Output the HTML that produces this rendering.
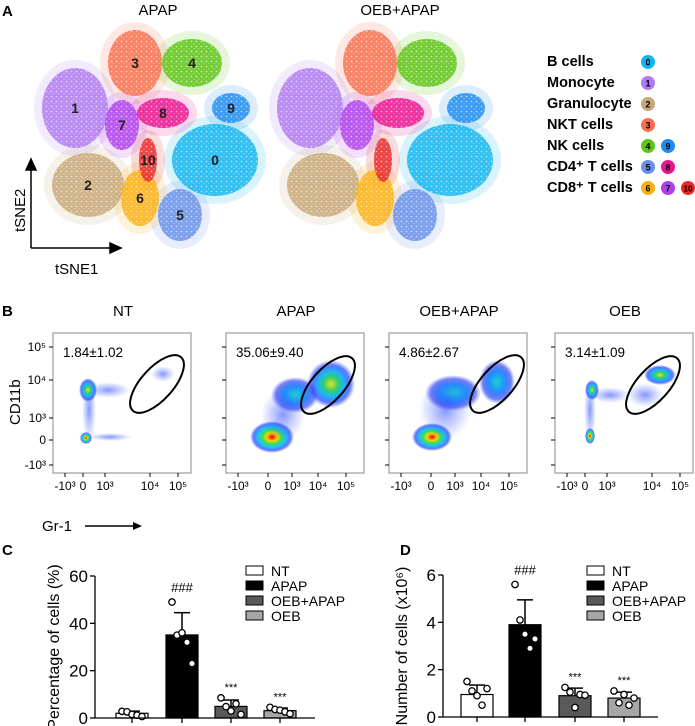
<!DOCTYPE html>
<html><head><meta charset="utf-8"><style>
body{margin:0;background:#fff;}
svg{display:block;font-family:"Liberation Sans",Arial,sans-serif;}
</style></head><body>
<svg id="fig" width="695" height="726" viewBox="0 0 695 726" xmlns="http://www.w3.org/2000/svg">
<defs>
<radialGradient id="hot"><stop offset="0" stop-color="#e00000"/><stop offset="0.25" stop-color="#ffd000"/><stop offset="0.45" stop-color="#30e060"/><stop offset="0.65" stop-color="#20c0ff"/><stop offset="0.85" stop-color="#2040ff" stop-opacity="0.7"/><stop offset="1" stop-color="#3050ff" stop-opacity="0"/></radialGradient>
<radialGradient id="green"><stop offset="0" stop-color="#f0e020"/><stop offset="0.3" stop-color="#30d070"/><stop offset="0.55" stop-color="#20b0ff"/><stop offset="0.8" stop-color="#2040ff" stop-opacity="0.7"/><stop offset="1" stop-color="#3050ff" stop-opacity="0"/></radialGradient>
<radialGradient id="cool"><stop offset="0" stop-color="#20d0d0"/><stop offset="0.45" stop-color="#2090ff"/><stop offset="0.8" stop-color="#2030f0" stop-opacity="0.6"/><stop offset="1" stop-color="#3050ff" stop-opacity="0"/></radialGradient>
<radialGradient id="sparse"><stop offset="0" stop-color="#2040ff" stop-opacity="0.55"/><stop offset="1" stop-color="#4060ff" stop-opacity="0"/></radialGradient>
<pattern id="speck" width="5" height="5" patternUnits="userSpaceOnUse"><circle cx="1.5" cy="1.5" r="0.9" fill="#fff" fill-opacity="0.6"/><circle cx="4" cy="3.8" r="0.6" fill="#fff" fill-opacity="0.5"/></pattern>
</defs>
<g id="panelA"></g>
<g id="panelB"></g>
<g id="panelC"></g>
<g id="panelD"></g>
</svg>
<script>
// ---- Panel A data ----
const clusterIds = [0,1,2,3,4,5,6,7,8,9,10];
const clusterColors = ["#12b5ef","#b07af0","#c8a878","#f8704f","#60c418","#6890ea","#fbb012","#b040ec","#ea1490","#1e8cf0","#e82828"];
const clusterCx = [215,75,88,135,192,180,140,122,163,231,148];
const clusterCy = [160,108,185,63,63,215,198,125,113,108,160];
const clusterRx = [43,33,36,27,30,22,19,17,26,19,9];
const clusterRy = [36,40,32,33,24,26,28,25,15,15,22];
const legendNames = ["B cells","Monocyte","Granulocyte","NKT cells","NK cells","CD4\u207A T cells","CD8\u207A T cells"];
const legendClusters = [[0],[1],[2],[3],[4,9],[5,8],[6,7,10]];

// ---- Panel C / D data ----
const groups = ["NT","APAP","OEB+APAP","OEB"];
const barFills = ["#ffffff","#000000","#595959","#a6a6a6"];
const pctMeans = [2.0,35.1,4.9,3.1];
const pctSd = [0.9,9.4,2.7,1.1];
const pctPoints = [[2.8,2.6,1.5,1.2,0.6],[49,35,36,32,23],[8.5,4.8,3.0,6.0,1.5],[4.5,3.6,3.3,2.6,1.8]];
const pctTicks = [0,20,40,60];
const numMeans = [0.95,3.9,0.9,0.8];
const numSd = [0.4,1.05,0.32,0.25];
const numPoints = [[1.5,1.1,0.9,0.5,1.2],[5.6,4.1,3.5,2.9,3.3],[1.25,1.05,0.4,0.95,0.92],[1.1,0.6,0.95,0.5,0.8]];
const numTicks = [0,2,4,6];
const pctLabels = ["","###","***","***"];
const flowTitles = ["NT","APAP","OEB+APAP","OEB"];
const flowPcts = ["1.84\u00B11.02","35.06\u00B19.40","4.86\u00B12.67","3.14\u00B11.09"];

const NS="http://www.w3.org/2000/svg";
function mk(tag, attrs, parent, text){
  const e=document.createElementNS(NS,tag);
  for(const k in attrs) e.setAttribute(k,attrs[k]);
  if(text!==undefined) e.textContent=text;
  parent.appendChild(e); return e;
}

// ---- Panel A ----
const A=document.getElementById('panelA');
const lblA=mk('text',{x:2,y:16,'font-size':15,'font-weight':'bold'},A,'A');


[0,235].forEach((off,mi)=>{
  const g=mk('g',{},A);
  
  
  const t=mk('text',{x:mi===0?158:400,y:15,'font-size':15,'text-anchor':'middle'},g,mi===0?'APAP':'OEB+APAP');
  
  
  clusterIds.forEach((id,i)=>{
    const h=mk('ellipse',{cx:clusterCx[i]+off,cy:clusterCy[i],rx:clusterRx[i]+8,ry:clusterRy[i]+8,fill:clusterColors[i],'fill-opacity':0.16},g);
    
    
  });
  clusterIds.forEach((id,i)=>{
    const c=mk('ellipse',{cx:clusterCx[i]+off,cy:clusterCy[i],rx:clusterRx[i],ry:clusterRy[i],fill:clusterColors[i],'fill-opacity':0.85},g);
    
    
    mk('ellipse',{cx:clusterCx[i]+off,cy:clusterCy[i],rx:clusterRx[i],ry:clusterRy[i],fill:'url(#speck)'},g);
    if(mi===0){
      const n=mk('text',{x:clusterCx[i],y:clusterCy[i]+5,'font-size':14,'font-weight':'bold','text-anchor':'middle',fill:'#222'},g,String(id));
      
      
    }
  });
});
const ax=mk('g',{stroke:'#000','stroke-width':1.5,fill:'none'},A);


mk('path',{d:'M31,248 L31,166 M31,248 L114,248'},ax);
mk('path',{d:'M26,170 L31,159 L36,170 Z M110,243 L121,248 L110,253 Z',fill:'#000'},ax);
const t1=mk('text',{x:55,y:274,'font-size':15},A,'tSNE1');


const t2=mk('text',{x:0,y:0,'font-size':15,transform:'translate(25,232) rotate(-90)'},A,'tSNE2');


legendNames.forEach((nm,r)=>{
  const y=66+r*21;
  const e=mk('text',{x:547,y:y,'font-size':14.5,'font-weight':'bold'},A,nm);
  
  
  legendClusters[r].forEach((id,k)=>{
    const c=mk('circle',{cx:648+k*20,cy:y-4,r:7,fill:clusterColors[id]},A);
    
    
    mk('text',{x:648+k*20,y:y-0.5,'font-size':id>9?8:9,'text-anchor':'middle','font-weight':'bold'},A,String(id));
  });
});

// ---- Panel B ----
const B=document.getElementById('panelB');
const lblB=mk('text',{x:2,y:316,'font-size':15,'font-weight':'bold'},B,'B');


const boxX=[53,226,389,555];
const blobs=[
 [[89,410,7,32,'sparse'],[108,390,22,8,'sparse'],[88,390,9,12,'green'],[86,438,6,6,'hot'],[110,437,22,4,'sparse'],[163,374,12,8,'sparse']],
 [[295,395,24,18,'cool'],[331,384,24,24,'green'],[272,437,22,16,'hot'],[283,415,22,26,'sparse']],
 [[453,393,28,18,'cool'],[497,382,18,22,'cool'],[432,437,20,14,'hot'],[445,410,26,30,'sparse']],
 [[590,410,6,32,'sparse'],[592,390,7,10,'green'],[590,436,5,8,'hot'],[610,395,20,8,'sparse'],[660,375,16,10,'green'],[645,395,18,12,'sparse']]
];
const gates=[[157,384],[328,385],[497,384],[653,385]];
boxX.forEach((bx,i)=>{
  const g=mk('g',{},B);
  
  
  const tt=mk('text',{x:bx+70,y:316,'font-size':15,'text-anchor':'middle'},g,flowTitles[i]);
  
  
  blobs[i].forEach(b=>{
    const e=mk('ellipse',{cx:b[0],cy:b[1],rx:b[2],ry:b[3],fill:'url(#'+b[4]+')'},g);
    
    
  });
  const gate=mk('ellipse',{cx:gates[i][0],cy:gates[i][1],rx:36,ry:16,fill:'none',stroke:'#000','stroke-width':2,transform:'rotate(-48 '+gates[i][0]+' '+gates[i][1]+')'},g);
  
  
  mk('rect',{x:bx,y:333,width:138,height:140,fill:'none',stroke:'#888','stroke-width':1},g);
  const p=mk('text',{x:bx+10,y:357,'font-size':13.5},g,flowPcts[i]);
  
  
  const xl=[['-10³',12],['0',i==1||i==2?42:30],['10³',i==1||i==2?66:52],['10⁴',i==1||i==2?92:97],['10⁵',i==1||i==2?120:125]];
  xl.forEach(([s,dx])=>{
    mk('line',{x1:bx+dx,x2:bx+dx,y1:473,y2:477,stroke:'#000'},g);
    mk('text',{x:bx+dx,y:490,'font-size':12,'text-anchor':'middle'},g,s);
  });
  const yl=[['10⁵',347],['10⁴',380],['10³',418],['0',440],['-10³',465]];
  yl.forEach(([s,y])=>{
    mk('line',{x1:bx-4,x2:bx,y1:y,y2:y,stroke:'#000'},g);
    if(i===0) mk('text',{x:bx-7,y:y+4,'font-size':12,'text-anchor':'end'},g,s);
  });
});
const cd=mk('text',{x:0,y:0,'font-size':15,transform:'translate(20,425) rotate(-90)'},B,'CD11b');


const gr=mk('text',{x:42,y:531,'font-size':15},B,'Gr-1');


mk('line',{x1:85,x2:135,y1:526,y2:526,stroke:'#000','stroke-width':1.5},B);
mk('path',{d:'M133,522 L142,526 L133,530 Z'},B);

// ---- Bar charts ----
function barChart(gid,label,lx,axisX,axisEnd,centers,y0,yTop,maxV,means,sds,pts,ticks,title,marks,legX){
  const G=document.getElementById(gid);
  const yS=v=>y0-(v/maxV)*(y0-yTop);
  const l=mk('text',{x:lx,y:555,'font-size':15,'font-weight':'bold'},G,label);
  
  
  centers.forEach((cx,i)=>{
    const top=yS(means[i]), errT=yS(means[i]+sds[i]);
    mk('line',{x1:cx,x2:cx,y1:errT,y2:top,stroke:'#000','stroke-width':1.5},G);
    mk('line',{x1:cx-8,x2:cx+8,y1:errT,y2:errT,stroke:'#000','stroke-width':1.5},G);
    const r=mk('rect',{x:cx-16,y:top,width:32,height:y0-top,fill:barFills[i],stroke:'#000','stroke-width':1.2},G);
    
    
    pts[i].forEach((v,k)=>{
      const c=mk('circle',{cx:cx-10+k*5,cy:yS(v),r:3.2,fill:'#fff',stroke:'#000','stroke-width':1.3},G);
      
      
    });
    if(marks[i]){
      const mt=yS(Math.max(means[i]+sds[i],Math.max(...pts[i])));
      const s=mk('text',{x:cx,y:marks[i]==='###'?mt-10:mt-7,'font-size':marks[i]==='###'?13:11,'text-anchor':'middle'},G,marks[i]);
      
      
    }
    mk('line',{x1:cx,x2:cx,y1:y0,y2:y0+5,stroke:'#000','stroke-width':1.3},G);
  });
  mk('line',{x1:axisX,x2:axisX,y1:yTop,y2:y0,stroke:'#000','stroke-width':1.3},G);
  mk('line',{x1:axisX,x2:axisEnd,y1:y0,y2:y0,stroke:'#000','stroke-width':1.3},G);
  ticks.forEach(v=>{
    mk('line',{x1:axisX-5,x2:axisX,y1:yS(v),y2:yS(v),stroke:'#000','stroke-width':1.3},G);
    const t=mk('text',{x:axisX-7,y:yS(v)+6,'font-size':17,'text-anchor':'end'},G,String(v));
    
    
  });
  const yt=mk('text',{x:0,y:0,'font-size':16,'text-anchor':'middle',transform:'translate('+(axisX-36)+','+((y0+yTop)/2)+') rotate(-90)'},G,title);
  
  
  groups.forEach((gname,i)=>{
    const y=566+i*15;
    const r=mk('rect',{x:legX,y:y,width:17,height:9,fill:barFills[i],stroke:'#000','stroke-width':1},G);
    
    
    const t=mk('text',{x:legX+25,y:y+10,'font-size':14},G,gname);
    
    
  });
  return G;
}
barChart('panelC','C',2,95,315,[132,182,231,280],718,576,60,pctMeans,pctSd,pctPoints,pctTicks,'Percentage of cells (%)',pctLabels,246);
barChart('panelD','D',400,443,658,[477,525,575,624],717,575,6,numMeans,numSd,numPoints,numTicks,'Number of cells (x10\u2076)',pctLabels,587);
</script>
</body></html>
